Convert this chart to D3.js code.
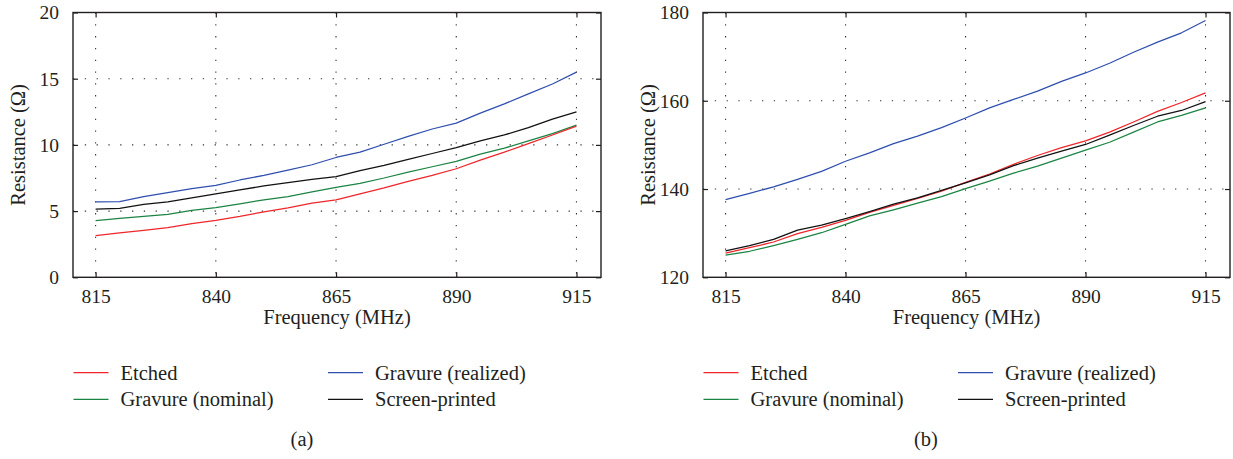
<!DOCTYPE html>
<html>
<head>
<meta charset="utf-8">
<script src="https://cdn.jsdelivr.net/npm/d3@7/dist/d3.min.js"></script>
<style>
  html, body { margin: 0; padding: 0; background: #fff; }
  svg { display: block; }
  text { font-family: "Liberation Serif", "Times New Roman", serif; fill: #231f20; }
</style>
</head>
<body>
<svg id="chart" width="1233" height="459"></svg>
<script>
// ---------- data ----------
const freq = [815, 820, 825, 830, 835, 840, 845, 850, 855, 860, 865, 870, 875, 880, 885, 890, 895, 900, 905, 910, 915];
const xTicks = [815, 840, 865, 890, 915];

const seriesNames = ["Etched", "Gravure (realized)", "Gravure (nominal)", "Screen-printed"];
const seriesColors = ["#f0262a", "#2f4fae", "#1b8443", "#111111"];

// Panel (a)
const aEtched    = [3.14, 3.35, 3.55, 3.75, 4.05, 4.30, 4.60, 4.95, 5.25, 5.60, 5.85, 6.30, 6.75, 7.25, 7.70, 8.20, 8.85, 9.45, 10.10, 10.75, 11.42];
const aRealized  = [5.69, 5.72, 6.10, 6.40, 6.70, 6.95, 7.35, 7.70, 8.10, 8.50, 9.05, 9.45, 10.05, 10.65, 11.20, 11.65, 12.40, 13.10, 13.85, 14.60, 15.50];
const aNominal   = [4.28, 4.45, 4.60, 4.75, 5.05, 5.27, 5.55, 5.85, 6.10, 6.45, 6.80, 7.10, 7.50, 7.95, 8.35, 8.75, 9.30, 9.75, 10.30, 10.85, 11.50];
const aScreen    = [5.14, 5.20, 5.50, 5.70, 6.00, 6.30, 6.60, 6.90, 7.15, 7.40, 7.60, 8.05, 8.45, 8.90, 9.35, 9.80, 10.30, 10.75, 11.30, 11.95, 12.50];
const aYTicks = [0, 5, 10, 15, 20];

// Panel (b)
const bEtched    = [125.5, 126.7, 128.0, 129.9, 131.3, 132.9, 134.7, 136.3, 137.9, 139.5, 141.5, 143.4, 145.6, 147.6, 149.4, 150.9, 152.9, 155.2, 157.6, 159.6, 161.8];
const bRealized  = [137.6, 139.0, 140.5, 142.2, 144.0, 146.3, 148.2, 150.3, 152.0, 153.9, 156.1, 158.4, 160.3, 162.2, 164.4, 166.3, 168.5, 171.0, 173.3, 175.4, 178.2];
const bNominal   = [125.0, 125.9, 127.2, 128.6, 130.1, 132.0, 133.9, 135.3, 136.8, 138.3, 140.1, 141.8, 143.6, 145.2, 147.0, 148.8, 150.6, 152.9, 155.2, 156.7, 158.4];
const bScreen    = [126.0, 127.2, 128.6, 130.7, 131.8, 133.3, 134.9, 136.6, 138.0, 139.7, 141.4, 143.2, 145.3, 147.0, 148.6, 150.1, 152.2, 154.4, 156.5, 157.8, 159.8];
const bYTicks = [120, 140, 160, 180];

const xDomain = [810.3, 920.1];

const panels = [
  { left: 73,  right: 601,  yDomain: [0, 20],    yTicks: aYTicks, series: [aEtched, aRealized, aNominal, aScreen], caption: "(a)", capX: 302 },
  { left: 703, right: 1230, yDomain: [120, 180], yTicks: bYTicks, series: [bEtched, bRealized, bNominal, bScreen], caption: "(b)", capX: 926 }
];

// ---------- drawing ----------
const svg = d3.select("#chart");
const plotTop = 12.5, plotBottom = 277.3;
const fs = 19.5;
const tickLen = 5;

panels.forEach(p => {
  const x = d3.scaleLinear().domain(xDomain).range([p.left, p.right]);
  const y = d3.scaleLinear().domain(p.yDomain).range([plotBottom, plotTop]);
  const g = svg.append("g");

  // grid (dotted)
  g.append("g").selectAll("line").data(xTicks).join("line")
    .attr("x1", d => x(d)).attr("x2", d => x(d))
    .attr("y1", plotTop).attr("y2", plotBottom)
    .attr("stroke", "#333").attr("stroke-width", 1.1)
    .attr("stroke-dasharray", "1.3,10.5");
  g.append("g").selectAll("line").data(p.yTicks.slice(1, -1)).join("line")
    .attr("x1", p.left).attr("x2", p.right)
    .attr("y1", d => y(d)).attr("y2", d => y(d))
    .attr("stroke", "#333").attr("stroke-width", 1.1)
    .attr("stroke-dasharray", "1.3,10.5");

  // series lines
  const line = d3.line().x((d, i) => x(freq[i])).y(d => y(d));
  const order = [2, 0, 3, 1];
  order.forEach(k => {
    g.append("path").datum(p.series[k])
      .attr("d", line)
      .attr("fill", "none")
      .attr("stroke", seriesColors[k])
      .attr("stroke-width", 1.25)
      .attr("stroke-linejoin", "round");
  });

  // ticks (inside, all four sides)
  const axisBottom = d3.axisBottom(x).tickValues(xTicks).tickSizeInner(-tickLen).tickSizeOuter(0).tickPadding(14);
  const axB = g.append("g").attr("transform", `translate(0,${plotBottom})`).call(axisBottom);
  const axisTop = d3.axisTop(x).tickValues(xTicks).tickSizeInner(-tickLen).tickSizeOuter(0).tickFormat("");
  const axT = g.append("g").attr("transform", `translate(0,${plotTop})`).call(axisTop);
  const axisLeft = d3.axisLeft(y).tickValues(p.yTicks).tickSizeInner(-tickLen).tickSizeOuter(0).tickPadding(14);
  const axL = g.append("g").attr("transform", `translate(${p.left},0)`).call(axisLeft);
  const axisRight = d3.axisRight(y).tickValues(p.yTicks).tickSizeInner(-tickLen).tickSizeOuter(0).tickFormat("");
  const axR = g.append("g").attr("transform", `translate(${p.right},0)`).call(axisRight);
  [axB, axT, axL, axR].forEach(a => {
    a.select(".domain").remove();
    a.selectAll(".tick line").attr("stroke", "#231f20").attr("stroke-width", 1.2);
    a.selectAll("text").attr("font-size", fs).attr("font-family", "Liberation Serif").attr("fill", "#231f20");
  });
  axB.selectAll("text").attr("dy", "0.6em");
  axL.selectAll("text").attr("dy", "0.33em");

  // frame
  g.append("rect")
    .attr("x", p.left).attr("y", plotTop)
    .attr("width", p.right - p.left).attr("height", plotBottom - plotTop)
    .attr("fill", "none").attr("stroke", "#231f20").attr("stroke-width", 1.4);

  // axis titles
  g.append("text")
    .attr("x", (p.left + p.right) / 2).attr("y", 324)
    .attr("text-anchor", "middle").attr("font-size", 20.5)
    .text("Frequency (MHz)");
  g.append("text")
    .attr("transform", `translate(${p.left - 48},${(plotTop + plotBottom) / 2}) rotate(-90)`)
    .attr("text-anchor", "middle").attr("font-size", 20.5)
    .text("Resistance (Ω)");

  // legend
  const legX = [p.left + 0.5, p.left + 255];
  const legY = [372.7, 399.3];
  const legPos = [[0, 0], [1, 0], [0, 1], [1, 1]];
  seriesNames.forEach((name, k) => {
    const cx = legX[legPos[k][0]], cy = legY[legPos[k][1]];
    g.append("line")
      .attr("x1", cx).attr("x2", cx + 35)
      .attr("y1", cy).attr("y2", cy)
      .attr("stroke", seriesColors[k]).attr("stroke-width", 1.3);
    g.append("text")
      .attr("x", cx + 47).attr("y", cy + 6.8)
      .attr("font-size", 20.5)
      .text(name);
  });

  // caption
  g.append("text")
    .attr("x", p.capX).attr("y", 446)
    .attr("text-anchor", "middle").attr("font-size", 20.5)
    .text(p.caption);
});
</script>
</body>
</html>
